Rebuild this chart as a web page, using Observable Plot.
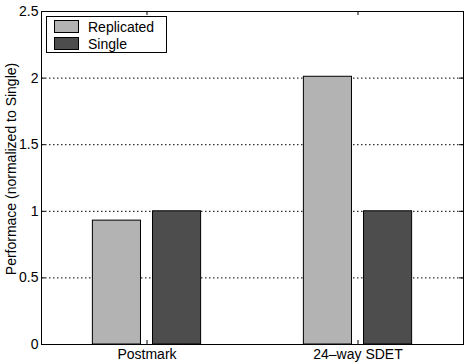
<!DOCTYPE html>
<html>
<head>
<meta charset="utf-8">
<script src="https://cdn.jsdelivr.net/npm/d3@7"></script>
<script src="https://cdn.jsdelivr.net/npm/@observablehq/plot@0.6"></script>
<style>
  body { margin: 0; background: #fff; }
  #wrap { position: relative; width: 467px; height: 364px; font-family: "Liberation Sans", Arial, Helvetica, sans-serif; }
  #legend { position: absolute; left: 46px; top: 16px; width: 119px; height: 35px; border: 1px solid #000; background: #fff; font-size: 14px; }
  .item { position: absolute; left: 7px; height: 14px; line-height: 14px; white-space: nowrap; }
  .sw { display: inline-block; width: 23px; height: 11px; border: 1px solid #000; vertical-align: top; margin-right: 9px; margin-top: 0px; }
</style>
</head>
<body>
<div id="wrap"></div>
<script>
const categories = ["Postmark", "24\u2013way SDET"];
const series = ["Replicated", "Single"];
const replicated = [0.93, 2.01];
const single = [1.0, 1.0];
const yTicks = [0, 0.5, 1, 1.5, 2, 2.5];
const gridTicks = [0.5, 1, 1.5, 2];
const colors = ["#b3b3b3", "#4d4d4d"];
const yLabel = "Performace (normalized to Single)";

const offsets = {Replicated: -0.1425, Single: 0.1425};
const bw = 0.228;
const data = categories.flatMap((c, i) => [
  {cat: c, pos: i + 1, s: series[0], v: replicated[i]},
  {cat: c, pos: i + 1, s: series[1], v: single[i]}
]);

const W = 467, H = 364, mL = 41, mR = 4, mT = 11, mB = 20;
const pw = W - mL - mR, ph = H - mT - mB;
const tl = 4;

const chart = Plot.plot({
  width: W, height: H,
  marginLeft: mL, marginRight: mR, marginTop: mT, marginBottom: mB,
  style: {fontFamily: '"Liberation Sans", Arial, Helvetica, sans-serif', fontSize: "14px", color: "#000", background: "#fff"},
  x: {domain: [0.5, 2.5]},
  y: {domain: [0, 2.5]},
  color: {domain: series, range: colors},
  marks: [
    Plot.ruleY(gridTicks, {stroke: "#000", strokeWidth: 1, strokeDasharray: "1.5,2.5"}),
    Plot.rectY(data, {
      x1: d => d.pos + offsets[d.s] - bw / 2,
      x2: d => d.pos + offsets[d.s] + bw / 2,
      y1: 0, y2: "v", fill: "s", stroke: "#000", strokeWidth: 1
    }),
    Plot.ruleY(yTicks, {stroke: "#000", insetRight: pw - tl}),
    Plot.ruleY(yTicks, {stroke: "#000", insetLeft: pw - tl}),
    Plot.ruleX([1, 2], {stroke: "#000", insetTop: ph - tl}),
    Plot.ruleX([1, 2], {stroke: "#000", insetBottom: ph - tl}),
    Plot.frame({stroke: "#000", strokeWidth: 1}),
    Plot.axisY({ticks: yTicks, tickSize: 0, tickPadding: 3, tickFormat: d => String(d), label: null}),
    Plot.text([yLabel], {text: d => d, frameAnchor: "left", textAnchor: "middle", lineAnchor: "middle", rotate: -90, dx: -30, dy: -9, fontSize: 14, fill: "#000"}),
    Plot.axisX({ticks: [1, 2], tickSize: 0, tickPadding: 5, tickFormat: d => categories[d - 1], label: null})
  ]
});
const wrap = document.getElementById("wrap");
wrap.appendChild(chart);

const legend = document.createElement("div");
legend.id = "legend";
series.forEach((s, i) => {
  const it = document.createElement("div");
  it.className = "item";
  it.style.top = (3 + i * 17) + "px";
  const sw = document.createElement("span");
  sw.className = "sw";
  sw.style.background = colors[i];
  it.appendChild(sw);
  it.appendChild(document.createTextNode(s));
  legend.appendChild(it);
});
wrap.appendChild(legend);
</script>
</body>
</html>
